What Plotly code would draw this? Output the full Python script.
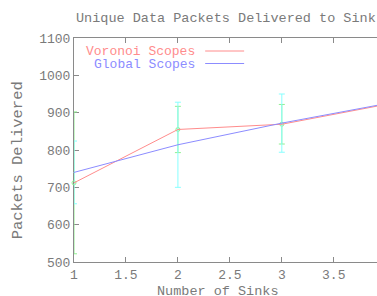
import plotly.graph_objects as go

sinks = [1, 2, 3, 4]
voronoi = [712, 855, 869, 922]
voronoi_err = [190, 62, 53, 40]
global_ = [740, 814, 872, 924]
global_err = [84, 114, 78, 60]
x_ticks = [1, 1.5, 2, 2.5, 3, 3.5, 4]
y_ticks = [500, 600, 700, 800, 900, 1000, 1100]

FONT = "Liberation Mono"
GREY = "#7a7a7a"
RED = "#ff8c8c"
BLUE = "#8c8cff"
GREEN = "#90f090"
CYAN = "#88ffff"

fig = go.Figure()
fig.add_trace(go.Scatter(x=sinks, y=voronoi, mode="markers", cliponaxis=False,
                         marker=dict(symbol="circle-open", size=4, color=GREEN, line=dict(width=1)),
                         error_y=dict(type="data", array=voronoi_err, color=GREEN, thickness=1, width=3),
                         showlegend=False))
fig.add_trace(go.Scatter(x=sinks, y=global_, mode="markers", cliponaxis=False,
                         marker=dict(size=1, color=CYAN),
                         error_y=dict(type="data", array=global_err, color=CYAN, thickness=1, width=3),
                         showlegend=False))
fig.add_trace(go.Scatter(x=sinks, y=voronoi, mode="lines", line=dict(color=RED, width=1),
                         showlegend=False))
fig.add_trace(go.Scatter(x=sinks, y=global_, mode="lines", line=dict(color=BLUE, width=1),
                         showlegend=False))

axis_common = dict(showgrid=False, zeroline=False, showline=True, linecolor="#8a8a8a",
                   linewidth=1, ticks="inside", ticklen=5, tickcolor="#8a8a8a", automargin=False,
                   layer="below traces",
                   tickfont=dict(family=FONT, size=13, color=GREY))
fig.update_xaxes(range=[1, 3.916], tickvals=x_ticks, ticktext=[f"{v:g}" for v in x_ticks],
                 mirror="ticks", **axis_common)
fig.update_yaxes(range=[500, 1100], tickvals=y_ticks, ticktext=[str(v) for v in y_ticks],
                 mirror=False, **axis_common)

def px(xp):
    return (xp - 73.7) / 303.3

def py(yp):
    return (262 - yp) / 224

ann = [
    dict(text="Unique Data Packets Delivered to Sink", x=px(226), y=py(18), color=GREY, xa="center", s=13.5),
    dict(text="Number of Sinks", x=px(218), y=py(291), color=GREY, xa="center", s=13.5),
    dict(text="Voronoi Scopes", x=px(197), y=py(51), color=RED, xa="right", s=13),
    dict(text="Global Scopes", x=px(197), y=py(64), color=BLUE, xa="right", s=13),
]
for a in ann:
    fig.add_annotation(text=a["text"], xref="paper", yref="paper", x=a["x"], y=a["y"],
                       xanchor=a["xa"], yanchor="middle", showarrow=False,
                       font=dict(family=FONT, size=a["s"], color=a["color"]))
fig.add_annotation(text="Packets Delivered", xref="paper", yref="paper", x=px(18), y=py(160),
                   xanchor="center", yanchor="middle", showarrow=False, textangle=-90,
                   font=dict(family=FONT, size=15.5, color=GREY))

for yy, col in [(51, RED), (63.5, BLUE)]:
    fig.add_shape(type="line", xref="paper", yref="paper", x0=px(205), x1=px(244),
                  y0=py(yy), y1=py(yy), line=dict(color=col, width=1))

fig.update_layout(width=377, height=296, margin=dict(l=73.7, r=0, t=38, b=34),
                  plot_bgcolor="white", paper_bgcolor="white", showlegend=False)
fig.write_html("out.html", config={"displayModeBar": False},
               post_script="document.body.style.margin='0';")
